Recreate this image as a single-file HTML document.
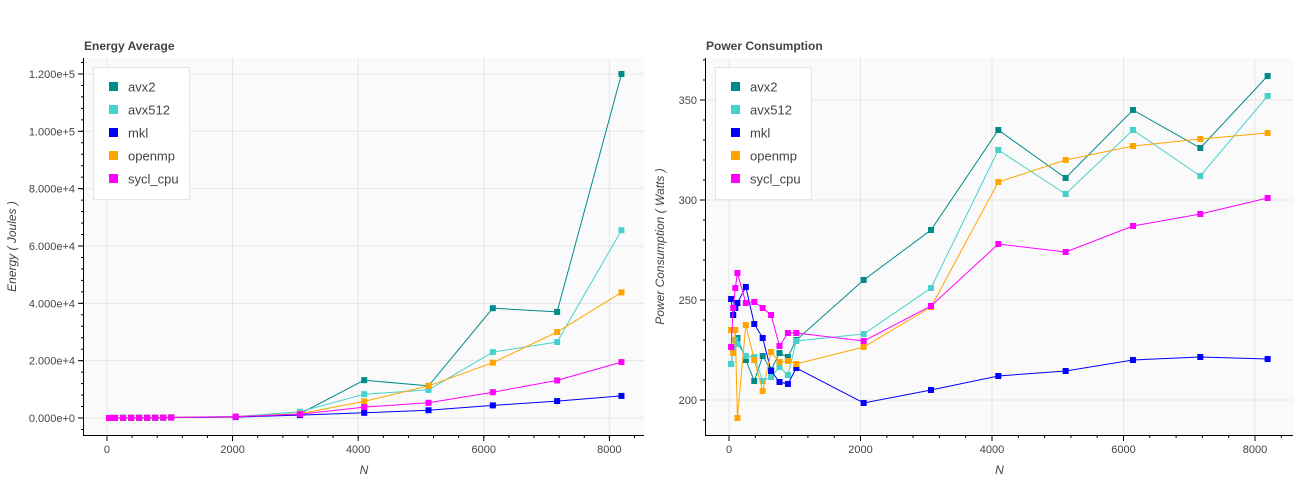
<!DOCTYPE html>
<html><head><meta charset="utf-8"><style>
body{margin:0;background:#fff;font-family:"Liberation Sans","DejaVu Sans",sans-serif}
svg text{font-family:"Liberation Sans","DejaVu Sans",sans-serif}
</style></head><body>
<svg id="root" width="1300" height="480"></svg>
<script>
const nValues=[32,64,96,128,256,384,512,640,768,896,1024,2048,3072,4096,5120,6144,7168,8192];
const seriesNames=["avx2","avx512","mkl","openmp","sycl_cpu"];
const seriesColors=["#008b8b","#48d1cc","#0000ff","#ffa500","#ff00ff"];
const energyAvx2=[5,10,15,20,40,60,80,100,130,160,200,500,1500,13200,11200,38300,37000,120000];
const energyAvx512=[5,10,15,20,40,60,80,100,130,160,200,500,2200,8300,9800,23000,26500,65500];
const energyMkl=[3,6,9,12,25,40,55,70,90,110,140,300,1000,1800,2700,4400,5900,7700];
const energyOpenmp=[5,10,15,20,40,60,80,100,130,160,200,450,1500,5800,11200,19300,30000,43800];
const energySycl=[5,10,15,20,40,60,80,100,130,160,200,500,1300,3800,5300,9000,13100,19500];
const powerAvx2=[218,225,230,231,220,209.5,222,215,223.5,221.5,230,260,285,335,311,345,326,362];
const powerAvx512=[218,225,230,228,222,221.5,209.5,211.5,216.5,212.5,229.5,233,256,325,303,335,312,352];
const powerMkl=[250.5,242.5,246,248.5,256.5,238,231,214.5,209,208,216,198.5,205,212,214.5,220,221.5,220.5];
const powerOpenmp=[235,223.5,235,191,237.5,220,204.5,224,219,219.5,218,226.5,246.5,309,320,327,330.5,333.5];
const powerSycl=[226.5,246,256,263.5,248.5,249,246,242.5,227,233.5,233.5,229.5,247,278,274,287,293,301];
const energyTicks=[0,20000,40000,60000,80000,100000,120000];
const energyTickLabels=["0.000e+0","2.000e+4","4.000e+4","6.000e+4","8.000e+4","1.000e+5","1.200e+5"];
const powerTicks=[200,250,300,350];
const xTicks=[0,2000,4000,6000,8000];

const NS="http://www.w3.org/2000/svg";
const root=document.getElementById('root');
function mk(tag,attrs,parent){const e=document.createElementNS(NS,tag);for(const k in attrs)e.setAttribute(k,attrs[k]);(parent||root).appendChild(e);return e;}

function drawPanel(cfg){
  const {L,R,T,B,x0,x1,y0,y1}=cfg;
  const sx=v=>L+(v-x0)/(x1-x0)*(R-L);
  const sy=v=>B-(v-y0)/(y1-y0)*(B-T);
  const g=mk('g',{});
  
  
  const bg=mk('rect',{x:L,y:T,width:R-L,height:B-T,fill:'#fafafa'},g);
  
  
  const t=mk('text',{x:L,y:T-8,'font-size':12,'font-weight':'bold',fill:'#444'},g);
  t.textContent=cfg.title;
  
  
  // grid
  xTicks.forEach(v=>{mk('line',{x1:sx(v),x2:sx(v),y1:T,y2:B,stroke:'#e5e5e5'},g);});
  cfg.yTicks.forEach(v=>{mk('line',{x1:L,x2:R,y1:sy(v),y2:sy(v),stroke:'#e5e5e5'},g);});
  // axes
  mk('line',{x1:L-0.5,x2:L-0.5,y1:T,y2:B+1,stroke:'#000'},g);
  mk('line',{x1:L-1,x2:R,y1:B+0.5,y2:B+0.5,stroke:'#000'},g);
  xTicks.forEach(v=>{
    mk('line',{x1:sx(v),x2:sx(v),y1:B,y2:B+6,stroke:'#000'},g);
    const tx=mk('text',{x:sx(v),y:B+18,'font-size':11,'text-anchor':'middle',fill:'#444'},g);
    tx.textContent=String(v);
    
    
  });
  for(let v=Math.ceil(x0/400)*400;v<=x1;v+=400){mk('line',{x1:sx(v),x2:sx(v),y1:B,y2:B+3,stroke:'#000'},g);}
  cfg.yTicks.forEach((v,i)=>{
    mk('line',{x1:L-6,x2:L,y1:sy(v),y2:sy(v),stroke:'#000'},g);
    const ty=mk('text',{x:L-9,y:sy(v)+4,'font-size':11,'text-anchor':'end',fill:'#444'},g);
    ty.textContent=cfg.yLabels[i];
    
    
  });
  for(let v=Math.ceil(y0/cfg.minor)*cfg.minor;v<=y1;v+=cfg.minor){mk('line',{x1:L-3,x2:L,y1:sy(v),y2:sy(v),stroke:'#000'},g);}
  const xl=mk('text',{x:(L+R)/2,y:474,'font-size':12,'font-style':'italic','text-anchor':'middle',fill:'#444'},g);
  xl.textContent='N';
  
  
  const yl=mk('text',{x:0,y:0,'font-size':12,'font-style':'italic','text-anchor':'middle',fill:'#444',transform:`translate(${cfg.ylx},${(T+B)/2}) rotate(-90)`},g);
  yl.textContent=cfg.yTitle;
  
  
  // series
  cfg.series.forEach((vals,si)=>{
    const pts=vals.map((v,i)=>sx(nValues[i]).toFixed(1)+','+sy(v).toFixed(1)).join(' ');
    const pl=mk('polyline',{points:pts,fill:'none',stroke:seriesColors[si],'stroke-width':1},g);
    
    
    vals.forEach((v,i)=>{
      const r=mk('rect',{x:sx(nValues[i])-3,y:sy(v)-3,width:6,height:6,fill:seriesColors[si]},g);
      
      
    });
  });
  // legend
  const lg=mk('g',{},g);
  
  
  mk('rect',{x:L+9.5,y:67.5,width:96,height:132,fill:'#fff',stroke:'#e5e5e5'},lg);
  seriesNames.forEach((n,i)=>{
    const yy=87+i*23;
    const e=mk('g',{},lg);
    
    
    mk('rect',{x:L+25,y:yy-5,width:9,height:9,fill:seriesColors[i]},e);
    const tt=mk('text',{x:L+44,y:yy+4.5,'font-size':13,fill:'#444'},e);
    tt.textContent=n;
  });
}
drawPanel({name:'energy-chart',title:'Energy Average',L:84,R:644,T:58,B:435,x0:-366,x1:8551,y0:-5930,y1:125570,
  yTicks:energyTicks,yLabels:energyTickLabels,minor:4000,yTitle:'Energy ( Joules )',ylx:16,
  series:[energyAvx2,energyAvx512,energyMkl,energyOpenmp,energySycl]});
drawPanel({name:'power-chart',title:'Power Consumption',L:706,R:1293,T:58,B:435,x0:-350,x1:8578,y0:182.5,y1:371,
  yTicks:powerTicks,yLabels:powerTicks.map(String),minor:10,yTitle:'Power Consumption ( Watts )',ylx:664,
  series:[powerAvx2,powerAvx512,powerMkl,powerOpenmp,powerSycl]});
</script>
</body></html>
